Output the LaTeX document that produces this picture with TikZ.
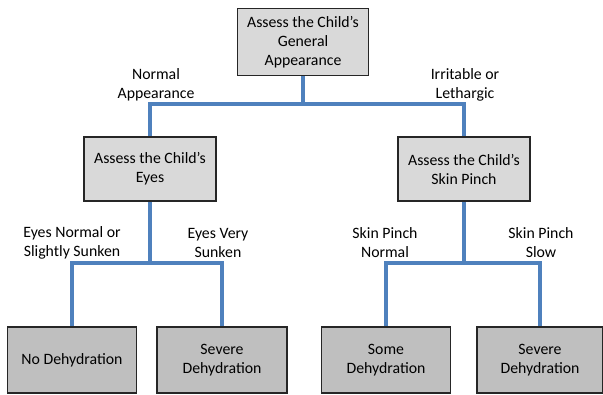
\documentclass[tikz,border=0pt]{standalone}
\usepackage{fontspec}
\setmainfont{Carlito}
\begin{document}
\begin{tikzpicture}[x=1pt,y=-1pt,
  every node/.style={font=\fontsize{15.8}{19}\selectfont, align=center, text=black},
  lightbox/.style={draw=black!85, line width=1.5pt, fill=black!15, inner sep=0pt},
  darkbox/.style={draw=black!85, line width=1.5pt, fill=black!25, inner sep=0pt},
  conn/.style={color={rgb,255:red,79;green,129;blue,189}, line width=3.2pt},
  lbl/.style={inner sep=0pt}]
\useasboundingbox (0,0) rectangle (603,394);
\node[lightbox, minimum width=131pt, minimum height=67pt] (top) at (303,42) {Assess the Child’s\\General\\Appearance};
\node[lightbox, minimum width=132pt, minimum height=64pt] (midL) at (150,169) {Assess the Child’s\\Eyes};
\node[lightbox, minimum width=132pt, minimum height=64pt] (midR) at (464,169) {Assess the Child’s\\Skin Pinch};
\node[darkbox, minimum width=129pt, minimum height=66pt] (b1) at (72,360) {No Dehydration};
\node[darkbox, minimum width=130pt, minimum height=66pt] (b2) at (222,360) {Severe\\Dehydration};
\node[darkbox, minimum width=129pt, minimum height=66pt] (b3) at (386,360) {Some\\Dehydration};
\node[darkbox, minimum width=126pt, minimum height=66pt] (b4) at (540,360) {Severe\\Dehydration};
\coordinate (j0) at (303,104);
\coordinate (j1) at (150,263);
\coordinate (j2) at (464,263);
\draw[conn] (top.south) -- (j0) -| (midL.north);
\draw[conn] (j0) -| (midR.north);
\draw[conn] (midL.south) -- (j1) -| (b1.north);
\draw[conn] (j1) -| (b2.north);
\draw[conn] (midR.south) -- (j2) -| (b3.north);
\draw[conn] (j2) -| (b4.north);
\node[lbl] (l0) at (156,85) {Normal\\Appearance};
\node[lbl] (l1) at (465,85) {Irritable or\\Lethargic};
\node[lbl] (l2) at (72,243) {Eyes Normal or\\Slightly Sunken};
\node[lbl] (l3) at (218,243) {Eyes Very\\Sunken};
\node[lbl] (l4) at (385,243) {Skin Pinch\\Normal};
\node[lbl] (l5) at (541,243) {Skin Pinch\\Slow};
\end{tikzpicture}
\end{document}
